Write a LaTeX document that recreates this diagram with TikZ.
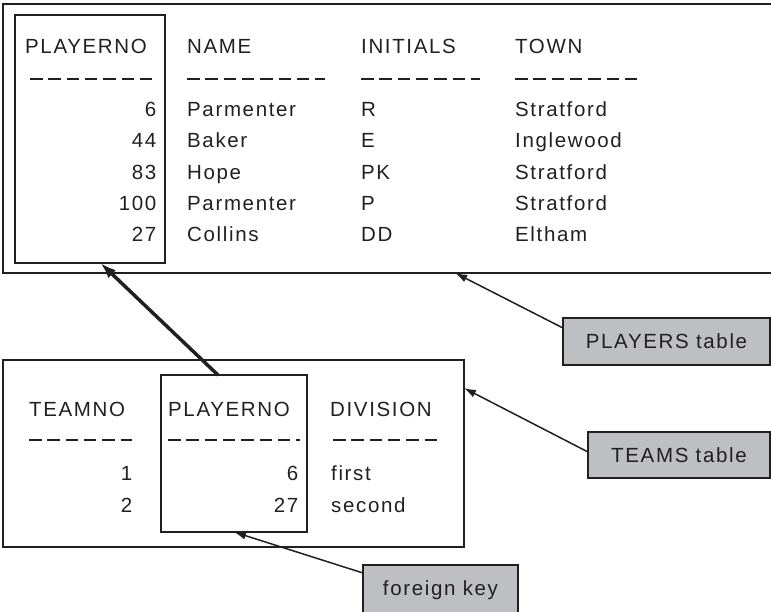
\documentclass[tikz,border=0pt]{standalone}
\usepackage{fontspec}
\setmainfont{Liberation Sans}[LetterSpace=8]
\usetikzlibrary{arrows.meta,calc}
\definecolor{labelgray}{RGB}{190,191,195}
\definecolor{inkgray}{RGB}{35,31,32}
\begin{document}
\begin{tikzpicture}[x=1pt,y=-1pt,
  every node/.style={font=\fontsize{20.5}{24}\selectfont, text=inkgray, inner sep=0pt},
  frame/.style={draw=inkgray, line width=2pt, anchor=north west, outer sep=0pt},
  callout/.style={frame, fill=labelgray},
  cell/.style={anchor=base west},
  num/.style={anchor=base east},
  rule/.style={draw=inkgray, line width=2pt, dash pattern=on 12.5pt off 5.8pt},
  pointer/.style={draw=inkgray, line width=1.5pt, -{Latex[length=12pt,width=8pt]}}]
  \useasboundingbox (0,0) rectangle (771,611);
  \clip (0,0) rectangle (771,611);

  % PLAYERS table
  \node[frame, minimum width=777pt, minimum height=269pt] (players) at (3,4) {};
  \node[frame, minimum width=150pt, minimum height=248pt] (playersfk) at (15,15) {};

  \node[cell] (hpno) at (25,53.5) {PLAYERNO};
  \node[cell] (hname) at (187,53.5) {NAME};
  \node[cell] (hinit) at (361,53.5) {INITIALS};
  \node[cell] (htown) at (515,53.5) {TOWN};

  \draw[rule] (30,78.5) -- (152,78.5);
  \draw[rule] (187,78.5) -- (325,78.5);
  \draw[rule] (361,78.5) -- (480,78.5);
  \draw[rule] (515,78.5) -- (638,78.5);

  \foreach \pno/\pname/\init/\town [count=\i] in
    {6/Parmenter/R/Stratford, 44/Baker/E/Inglewood, 83/Hope/PK/Stratford,
     100/Parmenter/P/Stratford, 27/Collins/DD/Eltham}
  {
    \node[num] (pno\i) at (156.5,85.2+31.3*\i) {\pno};
    \node[cell] (name\i) at (187,85.2+31.3*\i) {\pname};
    \node[cell] (init\i) at (361,85.2+31.3*\i) {\init};
    \node[cell] (town\i) at (515,85.2+31.3*\i) {\town};
  }

  % TEAMS table
  \node[frame, minimum width=461pt, minimum height=187pt] (teams) at (3,360) {};
  \node[frame, minimum width=146pt, minimum height=157pt] (teamsfk) at (161,375) {};

  \node[cell] (hteam) at (29,416.7) {TEAMNO};
  \node[cell] (htpno) at (168,416.7) {PLAYERNO};
  \node[cell] (hdiv) at (330,416.7) {DIVISION};

  \draw[rule] (29,440) -- (132,440);
  \draw[rule] (168,440) -- (300,440);
  \draw[rule] (333,440) -- (437,440);

  \foreach \tno/\pno/\div [count=\i] in {1/6/first, 2/27/second}
  {
    \node[num] (tno\i) at (132.5,448+32*\i) {\tno};
    \node[num] (tpno\i) at (298.5,448+32*\i) {\pno};
    \node[cell] (div\i) at (331,448+32*\i) {\div};
  }

  % labels
  \node[callout, minimum width=207pt, minimum height=47pt] (playerslabel) at (563,318) {PLAYERS table};
  \node[callout, minimum width=182pt, minimum height=46pt] (teamslabel) at (588,432) {TEAMS table};
  \node[callout, minimum width=155pt, minimum height=50pt] (fklabel) at (363,565) {foreign key};

  \draw[pointer, line width=3.5pt, -{Latex[length=16pt,width=11pt]}]
    ($(teamsfk.north west)!0.39!(teamsfk.north east)$) -- ($(playersfk.south west)!0.57!(playersfk.south east)$);
  \draw[pointer] ([yshift=-10pt]playerslabel.north west) -- ($(players.south west)!0.582!(players.south east)$);
  \draw[pointer] ([yshift=-20pt]teamslabel.north west) -- ($(teams.north east)!0.15!(teams.south east)$);
  \draw[pointer] ([yshift=-8pt]fklabel.north west) -- (teamsfk.south);
\end{tikzpicture}
\end{document}
